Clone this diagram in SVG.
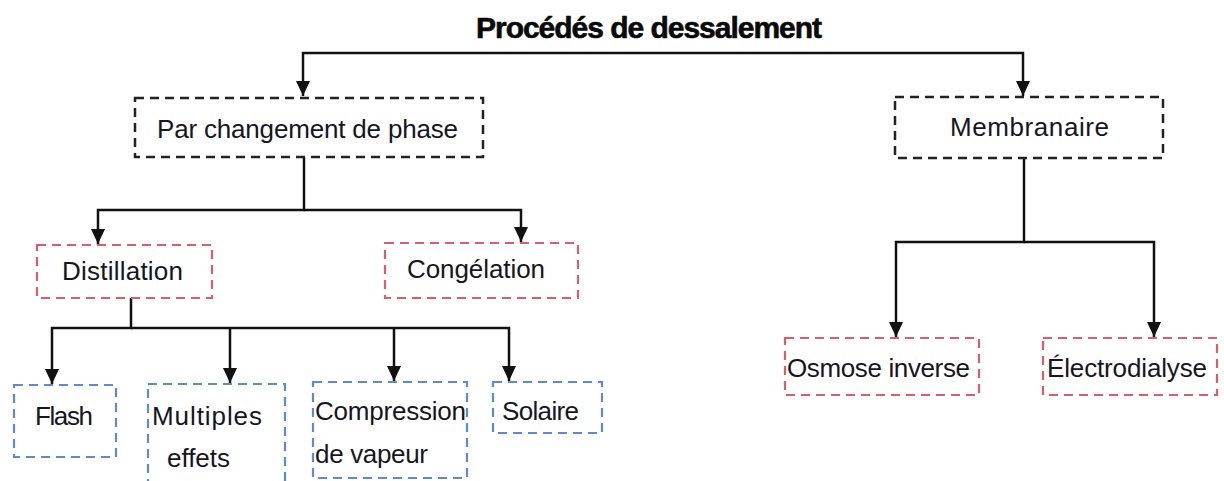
<svg xmlns="http://www.w3.org/2000/svg" width="1224" height="481" viewBox="0 0 1224 481">
<defs>
<marker id="arr" viewBox="0 0 15 14" refX="15" refY="7" markerWidth="15" markerHeight="14" markerUnits="userSpaceOnUse" orient="auto">
<path d="M0,0 L15,7 L0,14 z" fill="#111"/>
</marker>
<style>
.t{font-family:"Liberation Sans",Arial,sans-serif;font-size:26px;fill:#161622}
.title{font-family:"Liberation Sans",Arial,sans-serif;font-size:30px;font-weight:bold;fill:#0a0a0a;stroke:#0a0a0a;stroke-width:0.6}
.bk{fill:#fff;stroke:#222;stroke-width:2.5;stroke-dasharray:9 6}
.rd{fill:#fff;stroke:#d65f68;stroke-width:2.2;stroke-dasharray:9 6}
.bl{fill:#fff;stroke:#5f8bc6;stroke-width:2.2;stroke-dasharray:9 6}
.c{fill:none;stroke:#111;stroke-width:2.5;marker-end:url(#arr)}
</style>
</defs>
<rect width="1224" height="481" fill="#fff"/>
<text class="title" x="476" y="38" textLength="346">Procédés de dessalement</text>
<g id="connectors">
<path class="c" d="M663,53 H303 V96"/>
<path class="c" d="M663,53 H1023 V96"/>
<path class="c" d="M304,157 V210 H98 V244"/>
<path class="c" d="M304,210 H521 V242"/>
<path class="c" d="M131,298 V328 H52 V384"/>
<path class="c" d="M131,328 H509 V381"/>
<path class="c" d="M230,328 V383"/>
<path class="c" d="M394,328 V381"/>
<path class="c" d="M1024,158 V242 H896 V337"/>
<path class="c" d="M1024,242 H1154 V337"/>
</g>
<g id="node-phase">
<rect class="bk" x="135" y="98" width="348" height="59"/>
<text class="t" x="157" y="138" textLength="301">Par changement de phase</text>
</g>
<g id="node-membranaire">
<rect class="bk" x="895" y="97" width="268" height="61"/>
<text class="t" x="950" y="136" textLength="159">Membranaire</text>
</g>
<g id="node-distillation">
<rect class="rd" x="37" y="245" width="175" height="53"/>
<text class="t" x="62" y="280" textLength="121">Distillation</text>
</g>
<g id="node-congelation">
<rect class="rd" x="385" y="243" width="193" height="55"/>
<text class="t" x="407" y="278" textLength="138">Congélation</text>
</g>
<g id="node-flash">
<rect class="bl" x="14" y="385" width="102" height="72"/>
<text class="t" x="35" y="425" textLength="58">Flash</text>
</g>
<g id="node-multiples">
<rect class="bl" x="148" y="384" width="137" height="110"/>
<text class="t" x="152" y="425" textLength="110">Multiples</text>
<text class="t" x="167" y="467" textLength="63">effets</text>
</g>
<g id="node-compression">
<rect class="bl" x="313" y="382" width="154" height="96"/>
<text class="t" x="315" y="420" textLength="151">Compression</text>
<text class="t" x="315" y="463" textLength="113">de vapeur</text>
</g>
<g id="node-solaire">
<rect class="bl" x="493" y="382" width="109" height="51"/>
<text class="t" x="502" y="420" textLength="77">Solaire</text>
</g>
<g id="node-osmose">
<rect class="rd" x="785" y="338" width="194" height="57"/>
<text class="t" x="787" y="377" textLength="183">Osmose inverse</text>
</g>
<g id="node-electrodialyse">
<rect class="rd" x="1043" y="338" width="174" height="57"/>
<text class="t" x="1047" y="377" textLength="160">Électrodialyse</text>
</g>
</svg>
